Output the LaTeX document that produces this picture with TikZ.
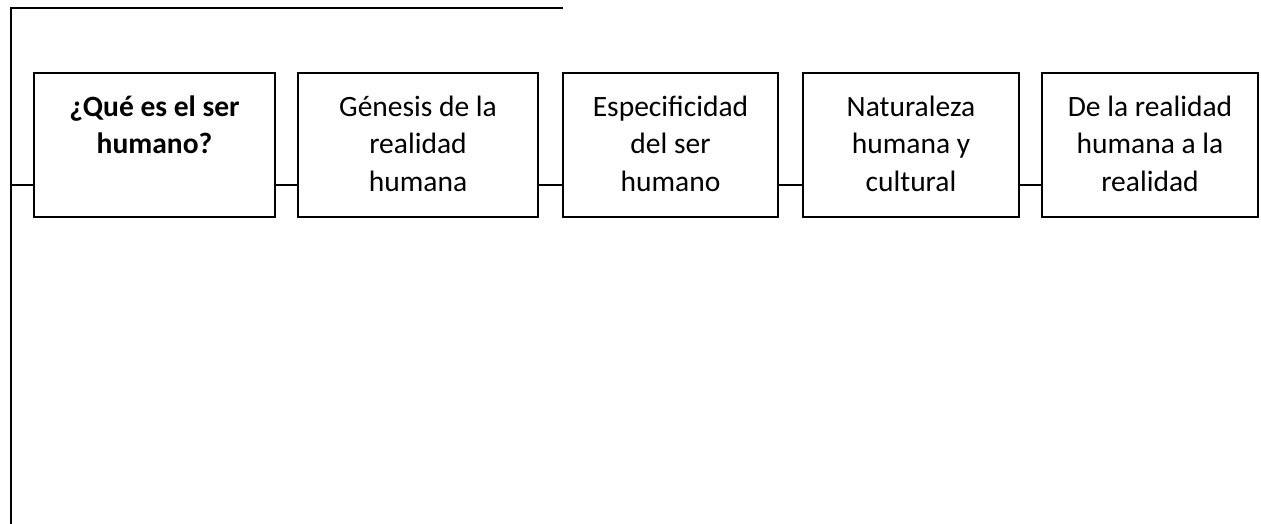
\documentclass[tikz,border=0pt]{standalone}
\usepackage{fontspec}
\setmainfont{Carlito}
\begin{document}
\begin{tikzpicture}[x=1pt,y=-1pt,
  line width=1.3pt,
  box/.style={draw, inner sep=0pt, outer sep=0pt, minimum height=144pt, anchor=north west},
  lbl/.style={align=center, anchor=north, inner sep=0pt, font=\fontsize{29.5}{37.5}\selectfont}]
\useasboundingbox (0,0) rectangle (1261,524);
\node[box, minimum width=241pt] (b1) at (34,73) {};
\node[box, minimum width=240pt] (b2) at (298,73) {};
\node[box, minimum width=215pt] (b3) at (563,73) {};
\node[box, minimum width=216pt] (b4) at (803,73) {};
\node[box, minimum width=216pt] (b5) at (1042,73) {};
\node[lbl] (t1) at ([yshift=-16.5pt]b1.north) {\strut\bfseries ¿Qué es el ser\\\bfseries humano?};
\node[lbl] (t2) at ([yshift=-16.5pt]b2.north) {\strut Génesis de la\\realidad\\humana};
\node[lbl] (t3) at ([yshift=-16.5pt]b3.north) {\strut Especificidad\\del ser\\humano};
\node[lbl] (t4) at ([yshift=-16.5pt]b4.north) {\strut Naturaleza\\humana y\\cultural};
\node[lbl] (t5) at ([yshift=-16.5pt]b5.north) {\strut De la realidad\\humana a la\\realidad};
\coordinate (tl) at (11,8);
\coordinate (tr) at (563,8);
\coordinate (bl) at (11,524);
\coordinate (j0) at (11,185);
\draw (tr) -- (tl) -- (bl);
\draw (j0) -- (j0 -| b1.west);
\draw (b1.east |- j0) -- (b2.west |- j0);
\draw (b2.east |- j0) -- (b3.west |- j0);
\draw (b3.east |- j0) -- (b4.west |- j0);
\draw (b4.east |- j0) -- (b5.west |- j0);
\end{tikzpicture}
\end{document}
